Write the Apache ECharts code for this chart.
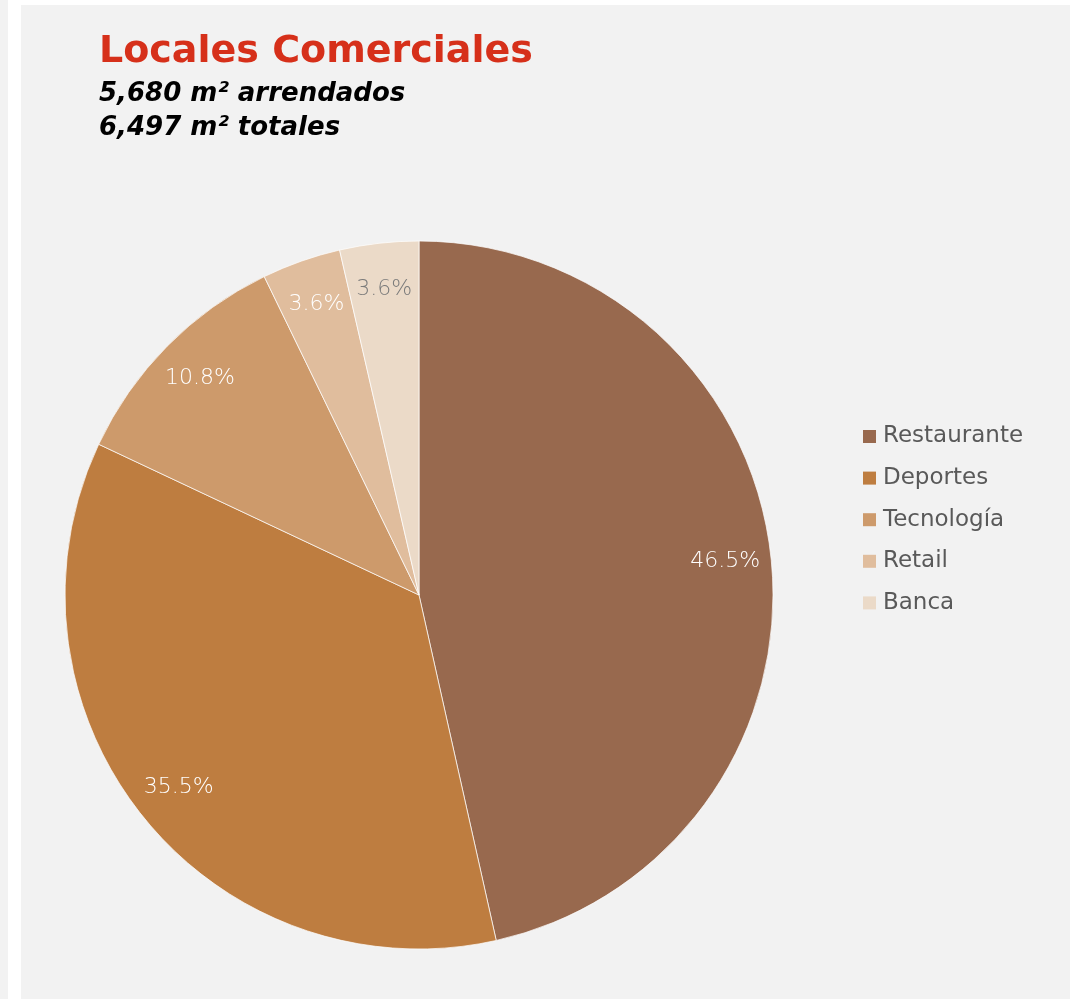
<!DOCTYPE html>
<html>
<head>
<meta charset="utf-8">
<script src="https://cdn.jsdelivr.net/npm/echarts@6/dist/echarts.min.js"></script>
<style>
  html, body { margin: 0; padding: 0; background: #ffffff; width: 1074px; height: 999px; overflow: hidden; }
  #strip { position: absolute; left: 0; top: 0; width: 8px; height: 999px; background: #f2f2f2; }
  #panel { position: absolute; left: 21px; top: 5px; width: 1049px; height: 994px; background: #f2f2f2; }
  #chart { position: absolute; left: 0; top: 0; width: 1074px; height: 999px; }
</style>
</head>
<body>
<div id="strip"></div>
<div id="panel"></div>
<div id="chart"></div>
<script>
// ---- data ----
const categories = ['Restaurante', 'Deportes', 'Tecnología', 'Retail', 'Banca'];
const shares = [46.5, 35.5, 10.8, 3.6, 3.6];
const sliceColors = ['#98694e', '#be7d40', '#cd9a6b', '#e0bd9d', '#ebdac8'];
const labelColors = ['#ffffff', '#ffffff', '#ffffff', '#ffffff', '#7a7a7a'];
const titleText = 'Locales Comerciales';
const subLines = ['5,680 m² arrendados', '6,497 m² totales'];

// ---- layout ----
const CX = 419, CY = 595, R = 354, LABEL_K = 0.87;
const total = shares.reduce((a, b) => a + b, 0);
const cum = [];
shares.reduce((acc, v, i) => { cum[i] = acc; return acc + v; }, 0);

const chart = echarts.init(document.getElementById('chart'), null, { renderer: 'canvas' });
chart.setOption({
  backgroundColor: 'transparent',
  animation: false,
  title: {
    text: titleText,
    subtext: subLines.join('\n'),
    left: 94,
    top: 24,
    itemGap: 2,
    textStyle: { fontFamily: 'DejaVu Sans', fontWeight: 'bold', fontSize: 38, color: '#d6301a', lineHeight: 46 },
    subtextStyle: { fontFamily: 'DejaVu Sans', fontWeight: 'bold', fontStyle: 'italic', fontSize: 26, color: '#000000', lineHeight: 34 }
  },
  legend: {
    orient: 'vertical',
    left: 858,
    top: 420,
    itemWidth: 13,
    itemHeight: 13,
    itemGap: 18.6,
    icon: 'rect',
    itemStyle: { borderWidth: 0 },
    data: categories,
    textStyle: { fontFamily: 'DejaVu Sans', fontSize: 23, color: '#595959', lineHeight: 23, padding: [0, 0, 0, 2] }
  },
  series: [{
    type: 'pie',
    center: [CX, CY],
    radius: [0, R],
    startAngle: 90,
    clockwise: true,
    silent: true,
    itemStyle: { borderColor: 'rgba(255,255,255,0.7)', borderWidth: 1 },
    label: {
      show: true,
      position: 'inside',
      fontFamily: 'DejaVu Sans',
      fontWeight: 200,
      fontSize: 22,
      formatter: p => shares[p.dataIndex].toFixed(1) + '%'
    },
    labelLine: { show: false },
    labelLayout: function (p) {
      const i = p.dataIndex;
      const mid = (cum[i] + shares[i] / 2) / total * Math.PI * 2;
      return {
        x: CX + LABEL_K * R * Math.sin(mid),
        y: CY - LABEL_K * R * Math.cos(mid),
        align: 'center',
        verticalAlign: 'middle'
      };
    },
    data: categories.map((name, i) => ({
      name: name,
      value: shares[i],
      itemStyle: { color: sliceColors[i] },
      label: { color: labelColors[i] }
    }))
  }]
});
</script>
</body>
</html>
